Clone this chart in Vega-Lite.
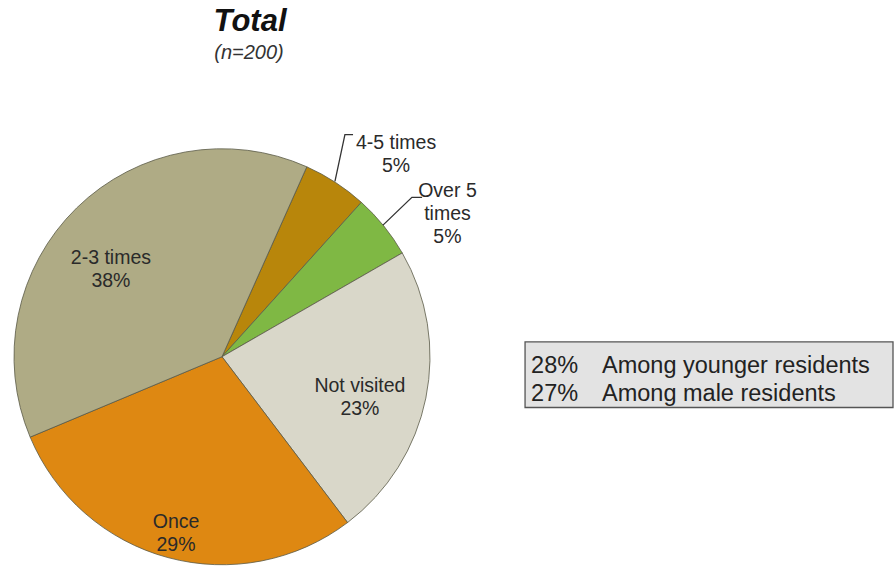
{
  "$schema": "https://vega.github.io/schema/vega-lite/v6.json",
  "width": 894,
  "height": 566,
  "autosize": {"type": "fit", "contains": "padding"},
  "padding": 0,
  "background": "white",
  "config": {"view": {"stroke": null}, "font": "Liberation Sans"},
  "datasets": {
    "slices": [
      {"category": "4-5 times", "value": 5, "order": 1},
      {"category": "Over 5 times", "value": 5, "order": 2},
      {"category": "Not visited", "value": 23, "order": 3},
      {"category": "Once", "value": 29, "order": 4},
      {"category": "2-3 times", "value": 38, "order": 5}
    ],
    "labels": [
      {"label": ["4-5 times", "5%"], "px": 0.837, "py": 1.029},
      {"label": ["Over 5", "times", "5%"], "px": 1.084, "py": 0.798},
      {"label": ["2-3 times", "38%"], "px": -0.534, "py": 0.478},
      {"label": ["Not visited", "23%"], "px": 0.663, "py": -0.142},
      {"label": ["Once", "29%"], "px": -0.221, "py": -0.796}
    ],
    "leaders": [
      {"id": "a", "seq": 1, "px": 0.543, "py": 0.846},
      {"id": "a", "seq": 2, "px": 0.591, "py": 1.072},
      {"id": "a", "seq": 3, "px": 0.630, "py": 1.072},
      {"id": "b", "seq": 1, "px": 0.774, "py": 0.635},
      {"id": "b", "seq": 2, "px": 0.913, "py": 0.769},
      {"id": "b", "seq": 3, "px": 0.962, "py": 0.769}
    ],
    "box": [{"x1": 1.457, "x2": 3.226, "y1": 0.072, "y2": -0.245}],
    "notes": [
      {"pct": "28%", "text": "Among younger residents", "py": -0.043},
      {"pct": "27%", "text": "Among male residents", "py": -0.178}
    ],
    "titles": [
      {"t": "Total", "px": 0.135, "py": 1.615, "kind": "main"},
      {"t": "(n=200)", "px": 0.130, "py": 1.466, "kind": "sub"}
    ]
  },
  "layer": [
    {
      "data": {"name": "slices"},
      "mark": {"type": "arc", "outerRadius": 208, "stroke": "#5b5a48", "strokeWidth": 0.8},
      "encoding": {
        "x": {"datum": 0, "type": "quantitative", "scale": {"domain": [-1.0673, 3.2308], "nice": false, "zero": false}, "axis": null},
        "y": {"datum": 0, "type": "quantitative", "scale": {"domain": [-1, 1.7212], "nice": false, "zero": false}, "axis": null},
        "theta": {"field": "value", "type": "quantitative", "stack": true, "scale": {"range": [0.42, 6.7032]}},
        "order": {"field": "order", "type": "quantitative"},
        "color": {
          "field": "category", "type": "nominal", "legend": null,
          "scale": {
            "domain": ["4-5 times", "Over 5 times", "Not visited", "Once", "2-3 times"],
            "range": ["#b8860b", "#7fb844", "#d9d7c9", "#de8812", "#afab85"]
          }
        }
      }
    },
    {
      "data": {"name": "leaders"},
      "mark": {"type": "line", "color": "#333333", "strokeWidth": 1.3},
      "encoding": {
        "x": {"field": "px", "type": "quantitative"},
        "y": {"field": "py", "type": "quantitative"},
        "detail": {"field": "id"},
        "order": {"field": "seq"}
      }
    },
    {
      "data": {"name": "labels"},
      "mark": {"type": "text", "fontSize": 19.5, "color": "#2a2a2a", "align": "center", "baseline": "middle", "lineHeight": 23},
      "encoding": {
        "x": {"field": "px", "type": "quantitative"},
        "y": {"field": "py", "type": "quantitative"},
        "text": {"field": "label"}
      }
    },
    {
      "data": {"name": "box"},
      "mark": {"type": "rect", "fill": "#e3e3e3", "stroke": "#555555", "strokeWidth": 1.3},
      "encoding": {
        "x": {"field": "x1", "type": "quantitative"},
        "x2": {"field": "x2"},
        "y": {"field": "y1", "type": "quantitative"},
        "y2": {"field": "y2"}
      }
    },
    {
      "data": {"name": "notes"},
      "mark": {"type": "text", "fontSize": 23.5, "color": "#222222", "align": "left", "baseline": "middle"},
      "encoding": {
        "x": {"datum": 1.486, "type": "quantitative"},
        "y": {"field": "py", "type": "quantitative"},
        "text": {"field": "pct"}
      }
    },
    {
      "data": {"name": "notes"},
      "mark": {"type": "text", "fontSize": 23.5, "color": "#222222", "align": "left", "baseline": "middle"},
      "encoding": {
        "x": {"datum": 1.827, "type": "quantitative"},
        "y": {"field": "py", "type": "quantitative"},
        "text": {"field": "text"}
      }
    },
    {
      "data": {"name": "titles"},
      "transform": [{"filter": "datum.kind == 'main'"}],
      "mark": {"type": "text", "fontSize": 31, "fontWeight": "bold", "fontStyle": "italic", "color": "#111111", "align": "center", "baseline": "middle"},
      "encoding": {
        "x": {"field": "px", "type": "quantitative"},
        "y": {"field": "py", "type": "quantitative"},
        "text": {"field": "t"}
      }
    },
    {
      "data": {"name": "titles"},
      "transform": [{"filter": "datum.kind == 'sub'"}],
      "mark": {"type": "text", "fontSize": 20, "fontStyle": "italic", "color": "#333333", "align": "center", "baseline": "middle"},
      "encoding": {
        "x": {"field": "px", "type": "quantitative"},
        "y": {"field": "py", "type": "quantitative"},
        "text": {"field": "t"}
      }
    }
  ]
}
